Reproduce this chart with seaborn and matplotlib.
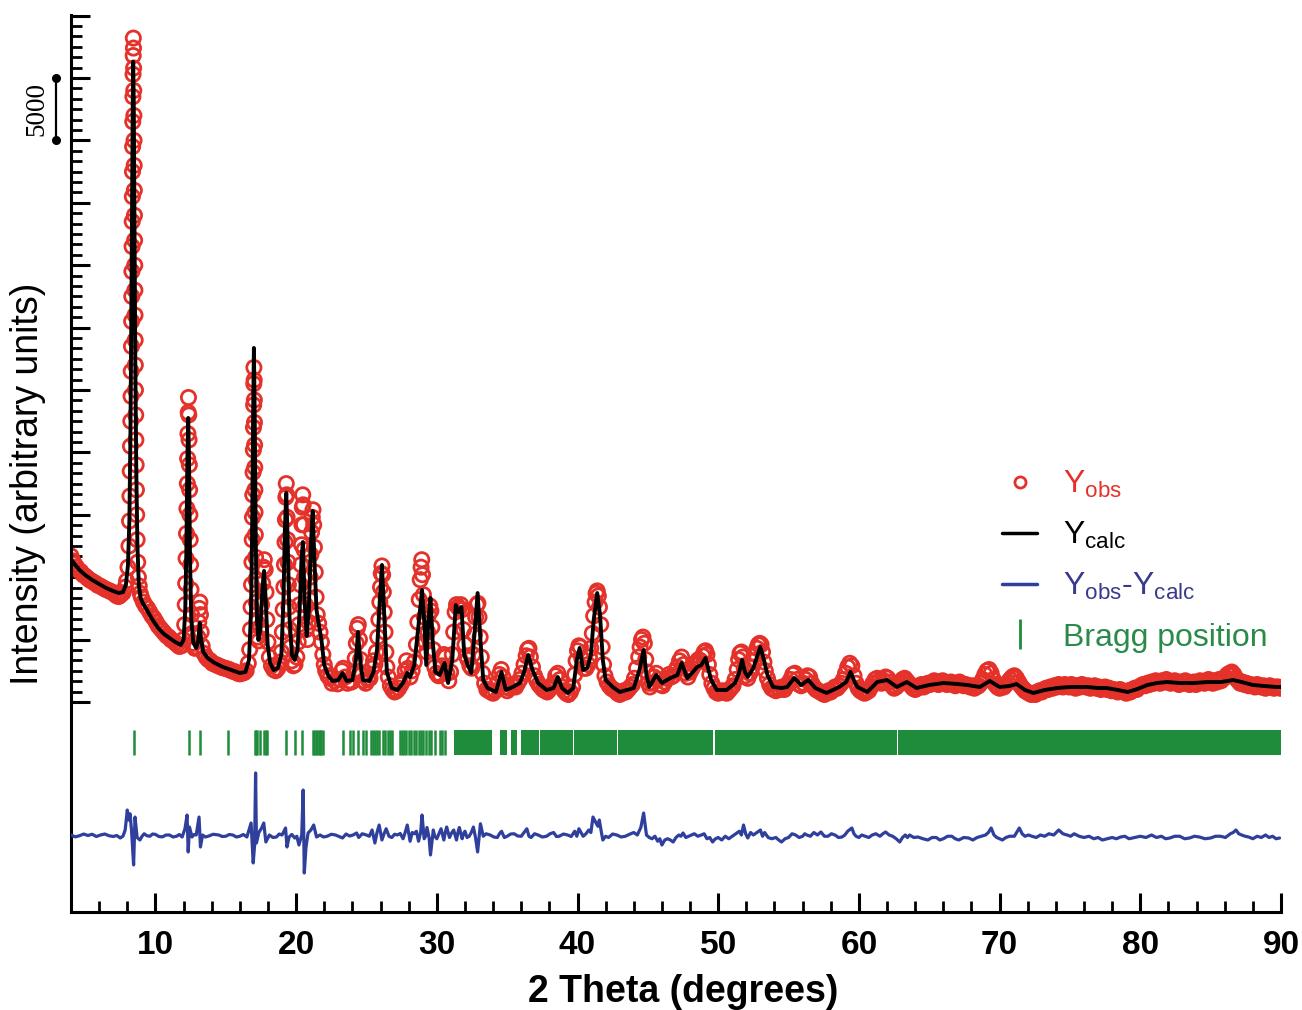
import numpy as np
import pandas as pd
import matplotlib
matplotlib.use("Agg")
import matplotlib.pyplot as plt
import seaborn as sns
from matplotlib.lines import Line2D
from matplotlib import transforms
from matplotlib.ticker import FixedLocator, MultipleLocator

# ---------------- data ----------------
# calculated profile: (2theta, counts)
ycalc_points = [
    (4.0, 11460), (4.3, 10980), (4.6, 10580), (5.0, 10180), (5.5, 9780), (6.0, 9460),
    (6.5, 9130), (7.0, 8890), (7.4, 8730), (7.7, 8810), (7.9, 9380), (8.05, 10980),
    (8.15, 14580), (8.22, 21000), (8.28, 29800), (8.34, 40200), (8.39, 48200), (8.42, 51300),
    (8.46, 48200), (8.51, 38600), (8.57, 27400), (8.64, 18600), (8.72, 12580), (8.82, 9380),
    (8.95, 8330), (9.1, 7930), (9.4, 7370), (9.8, 6570), (10.2, 5930), (10.6, 5450),
    (11.0, 5130), (11.4, 4810), (11.8, 4570), (12.0, 4970), (12.12, 7370), (12.2, 12180),
    (12.27, 19390), (12.33, 22760), (12.39, 19390), (12.46, 11380), (12.55, 6570), (12.7, 4730),
    (12.9, 4330), (13.05, 4970), (13.15, 6330), (13.25, 4970), (13.4, 4010), (13.7, 3530),
    (14.2, 3130), (14.8, 2800), (15.4, 2560), (16.0, 2320), (16.4, 2400), (16.65, 3370),
    (16.8, 7370), (16.88, 14580), (16.94, 22600), (17.0, 28370), (17.06, 22600), (17.13, 12980),
    (17.22, 6570), (17.32, 4970), (17.45, 5770), (17.6, 8970), (17.72, 10500), (17.84, 8170),
    (17.98, 4570), (18.15, 3130), (18.4, 2560), (18.7, 2720), (18.95, 3770), (19.1, 8170),
    (19.2, 13780), (19.3, 16750), (19.4, 12980), (19.52, 6970), (19.7, 3770), (19.9, 3370),
    (20.1, 4170), (20.25, 7370), (20.38, 11380), (20.48, 12820), (20.6, 8170), (20.75, 5290),
    (20.9, 7370), (21.05, 12580), (21.18, 15300), (21.3, 11380), (21.45, 7370), (21.62, 6170),
    (21.8, 4970), (22.0, 2965), (22.3, 2080), (22.6, 1680), (23.0, 1760), (23.3, 2320),
    (23.6, 1680), (24.0, 1760), (24.25, 3370), (24.4, 5610), (24.55, 3370), (24.75, 1760),
    (25.2, 1680), (25.5, 2400), (25.75, 4170), (25.95, 8170), (26.1, 10980), (26.25, 7370),
    (26.45, 2400), (26.8, 1120), (27.2, 960), (27.6, 1520), (27.9, 2320), (28.1, 2000),
    (28.4, 2965), (28.7, 6170), (28.95, 8970), (29.1, 6570), (29.25, 2965), (29.4, 6570),
    (29.55, 8330), (29.7, 4970), (29.9, 2400), (30.2, 2160), (30.55, 3125), (30.8, 1520),
    (31.1, 3370), (31.35, 7770), (31.55, 7210), (31.75, 7610), (31.95, 3765), (32.2, 2965),
    (32.45, 2320), (32.7, 5770), (32.9, 8730), (33.1, 4970), (33.3, 1760), (33.6, 1120),
    (34.2, 800), (34.6, 2400), (34.9, 960), (35.4, 1200), (35.9, 1520), (36.2, 2400),
    (36.5, 3765), (36.8, 2560), (37.2, 1520), (37.8, 960), (38.3, 1120), (38.6, 2000),
    (38.9, 1120), (39.3, 720), (39.7, 1120), (39.95, 3365), (40.15, 4330), (40.4, 2560),
    (40.7, 2720), (40.95, 3765), (41.15, 6570), (41.4, 8730), (41.6, 6970), (41.8, 3365),
    (42.0, 1760), (42.5, 1200), (43.0, 800), (43.5, 960), (44.0, 1120), (44.4, 2560),
    (44.7, 4170), (44.9, 2160), (45.1, 1200), (45.6, 2160), (46.0, 1520), (46.6, 1920),
    (47.1, 2160), (47.4, 3125), (47.8, 1920), (48.2, 2400), (48.5, 2800), (48.8, 2960),
    (49.1, 3525), (49.5, 1760), (49.9, 960), (50.6, 960), (51.2, 1520), (51.5, 2400),
    (51.7, 3365), (51.9, 2400), (52.1, 2000), (52.5, 2720), (52.8, 3765), (53.0, 4410),
    (53.25, 3365), (53.5, 2160), (53.9, 1200), (54.5, 1120), (54.9, 1200), (55.4, 1920),
    (55.9, 1360), (56.4, 1760), (56.9, 1120), (57.7, 720), (58.6, 1200), (59.1, 1600),
    (59.4, 2400), (59.7, 1600), (59.9, 1200), (60.6, 800), (61.3, 1600), (62.0, 1760),
    (62.7, 1200), (63.4, 1600), (64.1, 1120), (65.0, 1360), (66.0, 1520), (67.0, 1440),
    (67.7, 1360), (68.6, 1200), (69.3, 1680), (70.0, 1200), (70.7, 1280), (71.2, 1440),
    (71.8, 960), (72.4, 720), (73.2, 960), (74.1, 1120), (75.0, 1200), (76.2, 1200),
    (77.0, 1120), (77.6, 1120), (78.4, 960), (79.1, 800), (79.8, 1040), (80.5, 1360),
    (81.2, 1520), (81.9, 1600), (82.8, 1520), (83.8, 1520), (84.8, 1600), (85.7, 1600),
    (86.2, 1680), (86.6, 1760), (87.2, 1600), (88.0, 1360), (88.8, 1280), (89.7, 1200),
    (90.0, 1200),
]

# observed points, 4-22 deg: (2theta, counts)
yobs_low = [
    (4.0, 11700), (4.12, 11300), (4.25, 11050), (4.4, 10800), (4.55, 10550), (4.7, 10450),
    (4.85, 10200), (5.0, 10100), (5.15, 9950), (5.3, 9800), (5.45, 9700), (5.6, 9600),
    (5.75, 9500), (5.9, 9350), (6.05, 9300), (6.2, 9200), (6.35, 9100), (6.5, 9000),
    (6.65, 8950), (6.8, 8850), (6.95, 8800), (7.1, 8650), (7.25, 8500), (7.4, 8450),
    (7.55, 8600), (7.7, 8750), (7.85, 9200), (7.95, 9700), (8.05, 10800), (8.12, 12500),
    (8.16, 14500), (8.19, 16500), (8.21, 18500), (8.23, 20500), (8.25, 22500), (8.27, 24500),
    (8.28, 26500), (8.3, 28500), (8.31, 30500), (8.32, 32500), (8.33, 34500), (8.34, 36500),
    (8.35, 38500), (8.36, 40500), (8.37, 42500), (8.38, 44500), (8.39, 46500), (8.4, 48500),
    (8.41, 50300), (8.42, 51800), (8.43, 53200), (8.44, 52400), (8.45, 50800), (8.46, 49000),
    (8.47, 47000), (8.48, 45000), (8.49, 43000), (8.5, 41000), (8.51, 39000), (8.52, 37000),
    (8.53, 35000), (8.54, 33000), (8.55, 31000), (8.56, 29000), (8.57, 27000), (8.58, 25000),
    (8.6, 23000), (8.61, 21000), (8.63, 19000), (8.65, 17000), (8.67, 15000), (8.7, 13000),
    (8.74, 11200), (8.79, 10000), (8.85, 9300), (8.92, 8700), (9.0, 8400), (9.15, 8000),
    (9.3, 7700), (9.45, 7500), (9.6, 7200), (9.75, 6900), (9.9, 6700), (10.05, 6400),
    (10.2, 6100), (10.35, 5900), (10.5, 5700), (10.65, 5500), (10.8, 5300), (10.95, 5200),
    (11.1, 5000), (11.25, 4900), (11.4, 4750), (11.55, 4600), (11.7, 4450), (11.85, 4500),
    (11.98, 5000), (12.08, 6200), (12.12, 7800), (12.15, 9500), (12.18, 11500), (12.21, 13500),
    (12.24, 15500), (12.27, 17500), (12.29, 19500), (12.31, 21500), (12.33, 23200), (12.35, 24400),
    (12.37, 23000), (12.39, 21000), (12.41, 19000), (12.43, 17000), (12.45, 15000), (12.47, 13000),
    (12.5, 11000), (12.53, 9000), (12.57, 7000), (12.62, 5500), (12.7, 4700), (12.8, 4300),
    (12.92, 4400), (13.02, 5200), (13.08, 6400), (13.12, 7500), (13.16, 8000), (13.2, 7000),
    (13.25, 5600), (13.32, 4500), (13.45, 3900), (13.6, 3600), (13.75, 3400), (13.9, 3300),
    (14.05, 3100), (14.2, 3050), (14.35, 2950), (14.5, 2900), (14.65, 2800), (14.8, 2750),
    (14.95, 2700), (15.1, 2650), (15.25, 2600), (15.4, 2500), (15.55, 2450), (15.7, 2400),
    (15.85, 2300), (16.0, 2250), (16.15, 2300), (16.3, 2350), (16.45, 2500), (16.6, 3100),
    (16.7, 4200), (16.76, 5800), (16.8, 7600), (16.83, 9400), (16.86, 11200), (16.88, 13000),
    (16.9, 14800), (16.92, 16600), (16.94, 18400), (16.96, 20200), (16.97, 22000), (16.98, 23800),
    (16.99, 25500), (17.0, 26800), (17.02, 25800), (17.03, 24200), (17.04, 22400), (17.05, 20600),
    (17.06, 18800), (17.07, 17000), (17.08, 15200), (17.1, 13400), (17.12, 11600), (17.14, 9800),
    (17.17, 8000), (17.21, 6400), (17.27, 5200), (17.35, 4900), (17.45, 6000), (17.55, 7800),
    (17.62, 9500), (17.68, 10800), (17.74, 11400), (17.8, 10600), (17.86, 8800), (17.92, 6600),
    (18.0, 4800), (18.1, 3600), (18.25, 2900), (18.4, 2600), (18.55, 2500), (18.7, 2700),
    (18.85, 3200), (18.95, 4000), (19.02, 5600), (19.08, 7400), (19.13, 9200), (19.17, 11000),
    (19.21, 12800), (19.24, 14600), (19.27, 16400), (19.3, 17500), (19.33, 16600), (19.36, 14800),
    (19.39, 13000), (19.42, 11200), (19.45, 9400), (19.49, 7600), (19.54, 5800), (19.6, 4400),
    (19.7, 3300), (19.8, 2900), (19.92, 3000), (20.05, 3600), (20.15, 4800), (20.2, 6200),
    (20.25, 7800), (20.3, 9400), (20.34, 11000), (20.38, 12600), (20.41, 14200), (20.44, 15600),
    (20.47, 16600), (20.5, 15800), (20.53, 14200), (20.56, 12200), (20.6, 10000), (20.65, 7800),
    (20.72, 5800), (20.8, 5000), (20.88, 6400), (20.95, 8200), (21.0, 10000), (21.05, 11800),
    (21.1, 13600), (21.15, 14800), (21.2, 15400), (21.25, 14200), (21.3, 12400), (21.36, 10400),
    (21.42, 8400), (21.5, 7000), (21.6, 6300), (21.7, 5600), (21.8, 4800), (21.9, 3800),
    (22.0, 3000), (22.1, 2500), (22.25, 2100), (22.4, 1900),
]

# observed points, 22-45 deg
yobs_mid = [
    (22.55, 1500), (22.75, 1700), (22.95, 1450), (23.1, 1800), (23.25, 2500), (23.35, 2700),
    (23.5, 2000), (23.65, 1500), (23.8, 1700), (23.95, 1600), (24.1, 2300), (24.2, 3500),
    (24.28, 4700), (24.35, 5900), (24.42, 6200), (24.5, 5000), (24.58, 3400), (24.68, 2200),
    (24.8, 1700), (24.95, 1500), (25.1, 1800), (25.25, 1900), (25.4, 2700), (25.5, 3300),
    (25.6, 3000), (25.7, 4000), (25.8, 5200), (25.88, 6600), (25.95, 8000), (26.0, 9200),
    (26.05, 10300), (26.1, 10900), (26.15, 10200), (26.2, 8800), (26.26, 7200), (26.32, 5600),
    (26.38, 4000), (26.45, 2800), (26.55, 2000), (26.7, 1300), (26.85, 1000), (27.0, 800),
    (27.15, 900), (27.3, 1100), (27.45, 1400), (27.6, 1700), (27.75, 2500), (27.85, 3300),
    (27.95, 2700), (28.1, 2000), (28.25, 2500), (28.4, 3200), (28.55, 4600), (28.65, 6400),
    (28.75, 8200), (28.82, 9800), (28.88, 10800), (28.93, 11400), (28.98, 10200), (29.05, 8600),
    (29.12, 6800), (29.2, 4800), (29.28, 4000), (29.35, 5600), (29.42, 7000), (29.5, 7700),
    (29.58, 7300), (29.65, 6000), (29.75, 4200), (29.85, 2800), (29.98, 2300), (30.12, 2100),
    (30.25, 2200), (30.4, 2900), (30.5, 3800), (30.6, 3600), (30.72, 2300), (30.85, 1700),
    (30.98, 2400), (31.1, 3800), (31.2, 5600), (31.3, 7200), (31.4, 7800), (31.5, 7600),
    (31.6, 7500), (31.7, 7800), (31.8, 7400), (31.9, 5800), (32.0, 4600), (32.1, 3700),
    (32.2, 3400), (32.35, 2900), (32.48, 2700), (32.58, 3800), (32.68, 5400), (32.76, 6800),
    (32.85, 7800), (32.92, 7900), (33.0, 6800), (33.08, 5200), (33.16, 3600), (33.25, 2300),
    (33.4, 1500), (33.55, 1000), (33.7, 900), (33.85, 800), (34.0, 700), (34.15, 900),
    (34.3, 1500), (34.45, 2200), (34.58, 2600), (34.7, 2000), (34.85, 1200), (35.0, 900),
    (35.15, 1100), (35.3, 1400), (35.45, 1300), (35.6, 1200), (35.75, 1500), (35.9, 1800),
    (36.05, 2300), (36.2, 3000), (36.35, 3700), (36.45, 4200), (36.55, 4300), (36.65, 3600),
    (36.8, 2800), (36.95, 2100), (37.1, 1700), (37.25, 1400), (37.4, 1200), (37.55, 1000),
    (37.7, 900), (37.85, 800), (38.0, 1000), (38.15, 1200), (38.3, 1500), (38.45, 2100),
    (38.6, 2300), (38.75, 1800), (38.9, 1200), (39.05, 900), (39.2, 700), (39.35, 600),
    (39.5, 800), (39.65, 1200), (39.8, 2200), (39.9, 3300), (40.0, 4100), (40.1, 4500),
    (40.2, 4400), (40.3, 3500), (40.45, 2700), (40.6, 2700), (40.75, 3000), (40.85, 3600),
    (40.95, 4300), (41.05, 5500), (41.15, 6900), (41.25, 8000), (41.32, 8700), (41.4, 8900),
    (41.48, 8500), (41.56, 7600), (41.65, 6200), (41.75, 4400), (41.85, 3000), (41.95, 2100),
    (42.1, 1600), (42.25, 1300), (42.4, 1100), (42.55, 1000), (42.7, 900), (42.85, 700),
    (43.0, 600), (43.15, 700), (43.3, 900), (43.45, 800), (43.6, 1000), (43.75, 1200),
    (43.9, 1400), (44.05, 1900), (44.2, 2700), (44.35, 3600), (44.45, 4400), (44.55, 5000),
    (44.65, 5200), (44.75, 4700), (44.85, 3400), (44.95, 2400), (45.05, 1500), (45.15, 1200),
]

# observed points, 45-90 deg
yobs_high = [
    (45.3, 1500), (45.45, 2000), (45.6, 2300), (45.75, 1800), (45.9, 1400), (46.05, 1300),
    (46.2, 1600), (46.35, 1900), (46.5, 2200), (46.65, 2000), (46.8, 2100), (46.95, 2500),
    (47.1, 2800), (47.25, 3300), (47.4, 3600), (47.55, 3000), (47.7, 2300), (47.85, 2000),
    (48.0, 2400), (48.15, 2700), (48.3, 3000), (48.45, 3200), (48.6, 3400), (48.75, 3300),
    (48.9, 3700), (49.0, 4000), (49.1, 4100), (49.2, 3800), (49.3, 3000), (49.4, 2200),
    (49.55, 1500), (49.7, 1100), (49.85, 800), (50.0, 700), (50.15, 800), (50.3, 900),
    (50.45, 800), (50.6, 700), (50.75, 900), (50.9, 1100), (51.05, 1300), (51.2, 1800),
    (51.35, 2600), (51.45, 3400), (51.55, 3900), (51.65, 4000), (51.75, 3600), (51.85, 2700),
    (51.95, 2100), (52.1, 1900), (52.25, 2300), (52.4, 2800), (52.55, 3300), (52.65, 3800),
    (52.75, 4300), (52.85, 4600), (52.95, 4700), (53.05, 4600), (53.15, 4000), (53.25, 3200),
    (53.35, 2500), (53.5, 1900), (53.65, 1400), (53.8, 1100), (53.95, 1000), (54.1, 900),
    (54.25, 1100), (54.4, 1000), (54.55, 1200), (54.7, 1000), (54.85, 1300), (55.0, 1500),
    (55.15, 1800), (55.3, 2200), (55.45, 2300), (55.6, 1800), (55.75, 1400), (55.9, 1300),
    (56.05, 1500), (56.2, 1800), (56.35, 2100), (56.5, 2000), (56.65, 1500), (56.8, 1200),
    (56.95, 1000), (57.1, 900), (57.25, 800), (57.4, 700), (57.55, 600), (57.7, 700),
    (57.85, 900), (58.0, 800), (58.15, 1000), (58.3, 1200), (58.45, 1100), (58.6, 1300),
    (58.75, 1500), (58.9, 1800), (59.05, 2300), (59.2, 2800), (59.35, 3100), (59.5, 2900),
    (59.65, 2100), (59.8, 1500), (59.95, 1100), (60.1, 900), (60.25, 800), (60.4, 700),
    (60.55, 800), (60.7, 900), (60.85, 1200), (61.0, 1500), (61.15, 1800), (61.3, 1900),
    (61.45, 1700), (61.6, 1500), (61.75, 1700), (61.9, 2000), (62.05, 1900), (62.2, 1600),
    (62.35, 1300), (62.5, 1100), (62.65, 1200), (62.8, 1400), (62.95, 1600), (63.1, 1800),
    (63.25, 1900), (63.4, 1700), (63.55, 1500), (63.7, 1300), (63.85, 1100), (64.0, 1000),
    (64.15, 1100), (64.3, 1300), (64.45, 1400), (64.6, 1200), (64.75, 1300), (64.9, 1500),
    (65.05, 1400), (65.2, 1500), (65.35, 1700), (65.5, 1500), (65.65, 1400), (65.8, 1600),
    (65.95, 1700), (66.1, 1500), (66.25, 1400), (66.4, 1500), (66.55, 1600), (66.7, 1400),
    (66.85, 1300), (67.0, 1500), (67.15, 1600), (67.3, 1400), (67.45, 1300), (67.6, 1400),
    (67.75, 1300), (67.9, 1200), (68.05, 1300), (68.2, 1100), (68.35, 1200), (68.5, 1300),
    (68.65, 1500), (68.8, 1800), (68.95, 2200), (69.1, 2500), (69.25, 2600), (69.4, 2300),
    (69.55, 1800), (69.7, 1400), (69.85, 1200), (70.0, 1100), (70.15, 1300), (70.3, 1200),
    (70.45, 1400), (70.6, 1600), (70.75, 1800), (70.9, 2000), (71.05, 2100), (71.2, 1900),
    (71.35, 1600), (71.5, 1300), (71.65, 1100), (71.8, 900), (71.95, 800), (72.1, 700),
    (72.25, 600), (72.4, 700), (72.55, 600), (72.7, 800), (72.85, 900), (73.0, 800),
    (73.15, 1000), (73.3, 1100), (73.45, 1000), (73.6, 1200), (73.75, 1100), (73.9, 1300),
    (74.05, 1200), (74.2, 1400), (74.35, 1300), (74.5, 1200), (74.65, 1400), (74.8, 1300),
    (74.95, 1200), (75.1, 1400), (75.25, 1300), (75.4, 1100), (75.55, 1300), (75.7, 1200),
    (75.85, 1400), (76.0, 1300), (76.15, 1200), (76.3, 1300), (76.45, 1100), (76.6, 1200),
    (76.75, 1300), (76.9, 1100), (77.05, 1200), (77.2, 1000), (77.35, 1100), (77.5, 1200),
    (77.65, 1000), (77.8, 1100), (77.95, 900), (78.1, 1000), (78.25, 900), (78.4, 800),
    (78.55, 1000), (78.7, 900), (78.85, 800), (79.0, 700), (79.15, 900), (79.3, 800),
    (79.45, 1000), (79.6, 1100), (79.75, 1000), (79.9, 1200), (80.05, 1300), (80.2, 1400),
    (80.35, 1300), (80.5, 1500), (80.65, 1400), (80.8, 1600), (80.95, 1500), (81.1, 1700),
    (81.25, 1600), (81.4, 1500), (81.55, 1700), (81.7, 1600), (81.85, 1800), (82.0, 1700),
    (82.15, 1500), (82.3, 1600), (82.45, 1700), (82.6, 1500), (82.75, 1400), (82.9, 1600),
    (83.05, 1500), (83.2, 1700), (83.35, 1600), (83.5, 1400), (83.65, 1500), (83.8, 1600),
    (83.95, 1400), (84.1, 1500), (84.25, 1700), (84.4, 1600), (84.55, 1500), (84.7, 1700),
    (84.85, 1800), (85.0, 1600), (85.15, 1500), (85.3, 1700), (85.45, 1600), (85.6, 1800),
    (85.75, 1700), (85.9, 1900), (86.05, 2000), (86.2, 2200), (86.35, 2300), (86.5, 2400),
    (86.65, 2200), (86.8, 1900), (86.95, 1700), (87.1, 1500), (87.25, 1600), (87.4, 1400),
    (87.55, 1500), (87.7, 1300), (87.85, 1400), (88.0, 1300), (88.15, 1200), (88.3, 1400),
    (88.45, 1300), (88.6, 1200), (88.75, 1300), (88.9, 1100), (89.05, 1200), (89.2, 1300),
    (89.35, 1200), (89.5, 1100), (89.65, 1200), (89.8, 1200), (89.95, 1100),
]

# difference curve Yobs - Ycalc: (2theta, counts)
ydiff_points = [
    (4.0, 0), (4.3, -150), (4.6, -60), (4.9, 80), (5.2, -40), (5.5, 60), (5.8, -120),
    (6.1, 0), (6.4, 80), (6.7, -60), (7.0, -120), (7.25, -40), (7.5, -240), (7.7, -80),
    (7.85, 400), (8.0, 2000), (8.1, 1200), (8.2, 1700), (8.3, 400), (8.45, -2400),
    (8.55, 1440), (8.7, -200), (8.9, -400), (9.05, -100), (9.2, 100), (9.4, -60), (9.6, -100),
    (9.8, 80), (10.0, 50), (10.25, -120), (10.5, -150), (10.75, 0), (11.0, 0), (11.25, -160),
    (11.5, -100), (11.7, 40), (11.9, -160), (12.1, 500), (12.25, 1600), (12.33, -1360),
    (12.42, 640), (12.6, -160), (12.75, 40), (12.9, 0), (13.1, 1440), (13.2, -960),
    (13.35, 0), (13.55, -160), (13.8, -80), (14.1, 60), (14.5, 0), (14.75, -120), (15.0, -100),
    (15.25, 40), (15.5, 0), (15.75, -160), (16.0, -100), (16.25, 40), (16.5, -160),
    (16.8, 960), (16.95, -2240), (17.05, -800), (17.12, 4970), (17.18, -640), (17.35, 200),
    (17.55, 560), (17.7, 960), (17.85, -560), (18.1, 0), (18.35, -200), (18.6, -160),
    (18.8, 80), (19.0, 0), (19.25, 560), (19.35, -960), (19.5, -160), (19.7, 40), (19.9, -240),
    (20.05, -100), (20.2, -800), (20.4, 0), (20.5, 3600), (20.58, -3045), (20.7, -1000),
    (20.85, 160), (21.05, 400), (21.25, 800), (21.45, -160), (21.7, 0), (21.95, -160),
    (22.2, -100), (22.5, 60), (22.8, 0), (23.05, -120), (23.3, -240), (23.55, 80), (23.8, -80),
    (24.05, 0), (24.3, 160), (24.45, -200), (24.7, 100), (25.0, 0), (25.2, -100), (25.4, 400),
    (25.6, -640), (25.75, 200), (25.9, 800), (26.1, -400), (26.25, 100), (26.4, 500),
    (26.6, -100), (26.8, -200), (27.0, 60), (27.2, 0), (27.4, 120), (27.6, -300), (27.75, 200),
    (27.9, 800), (28.1, -500), (28.25, 200), (28.4, 100), (28.55, 300), (28.7, -500),
    (28.85, 200), (28.95, 1600), (29.1, -300), (29.2, -100), (29.3, 600), (29.45, -200),
    (29.55, -1600), (29.75, 400), (29.85, -100), (30.0, -300), (30.15, 100), (30.3, 500),
    (30.5, -400), (30.6, 200), (30.7, 640), (30.9, -200), (31.05, 160), (31.2, 400),
    (31.4, -400), (31.5, 200), (31.6, 600), (31.8, -300), (31.9, 100), (32.0, 300),
    (32.15, -200), (32.3, -100), (32.45, 200), (32.6, 640), (32.75, -200), (32.9, -1360),
    (33.1, 900), (33.3, -100), (33.5, 100), (33.8, 0), (34.05, -160), (34.3, -200),
    (34.45, 100), (34.6, 300), (34.8, -200), (35.0, -100), (35.25, 80), (35.5, 100),
    (35.75, -80), (36.0, -100), (36.2, 200), (36.4, 500), (36.55, -100), (36.7, -200),
    (36.95, 100), (37.2, 0), (37.5, -160), (37.8, -100), (38.05, 100), (38.3, 200),
    (38.5, -120), (38.7, -100), (39.0, 80), (39.3, 0), (39.55, -120), (39.8, 300),
    (39.95, -100), (40.1, 500), (40.25, 200), (40.4, -100), (40.6, 100), (40.8, 400),
    (40.95, 200), (41.1, 1440), (41.3, 1000), (41.45, 700), (41.55, 1200), (41.7, 200),
    (41.8, -400), (42.0, -100), (42.2, -200), (42.5, 80), (42.8, 0), (43.1, -160),
    (43.4, -100), (43.7, 60), (44.0, 200), (44.25, 0), (44.5, 600), (44.7, 1760), (44.9, 0),
    (45.1, -200), (45.3, -300), (45.5, -100), (45.7, -500), (45.85, -300), (46.0, -800),
    (46.2, -400), (46.4, -300), (46.6, -400), (46.8, -560), (47.0, -200), (47.2, 0),
    (47.35, -100), (47.5, 160), (47.7, -200), (47.9, -100), (48.1, 0), (48.3, 100),
    (48.55, -100), (48.8, 0), (49.0, 100), (49.2, -300), (49.4, -200), (49.6, -560),
    (49.8, -300), (50.0, -200), (50.25, -400), (50.5, -100), (50.75, -300), (51.0, -100),
    (51.25, 100), (51.5, 300), (51.65, 0), (51.8, 800), (51.95, 100), (52.1, -240),
    (52.3, 200), (52.5, 0), (52.75, 200), (53.0, 400), (53.15, -100), (53.3, 200),
    (53.55, -200), (53.8, -300), (54.1, -200), (54.3, -400), (54.5, -560), (54.75, -300),
    (55.0, -200), (55.25, 100), (55.5, 0), (55.75, -200), (56.0, -100), (56.15, 100),
    (56.3, 0), (56.55, -100), (56.8, 200), (57.05, 0), (57.3, 240), (57.55, -100),
    (57.8, -100), (58.05, 100), (58.3, 0), (58.55, -200), (58.8, -160), (59.0, 0),
    (59.2, 300), (59.5, 560), (59.65, 100), (59.8, -100), (60.0, -200), (60.2, 0),
    (60.45, -100), (60.7, -200), (60.95, 0), (61.2, 100), (61.5, -100), (61.7, 100),
    (61.9, 240), (62.15, 0), (62.4, -100), (62.65, -300), (62.9, -560), (63.1, -200),
    (63.3, 0), (63.45, -200), (63.6, 0), (63.9, -200), (64.2, -160), (64.55, -300),
    (64.9, -400), (65.2, -200), (65.5, -200), (65.75, -400), (66.0, -300), (66.3, -100),
    (66.6, -100), (66.85, -300), (67.1, -400), (67.45, -200), (67.8, -240), (68.1, -400),
    (68.4, -200), (68.7, -100), (69.0, 0), (69.2, 200), (69.4, 560), (69.6, 0), (69.8, -200),
    (70.0, -300), (70.2, -400), (70.45, -200), (70.7, -100), (71.05, -100), (71.4, 560),
    (71.6, 100), (71.8, -100), (72.05, 0), (72.3, -100), (72.6, -200), (72.9, 0),
    (73.2, -100), (73.5, 100), (73.85, 0), (74.2, 400), (74.5, 100), (74.8, 0), (75.05, -100),
    (75.3, 100), (75.65, -100), (76.0, -200), (76.35, -100), (76.7, -300), (77.0, -200),
    (77.3, -400), (77.65, -300), (78.0, -200), (78.3, -300), (78.6, -160), (78.9, -100),
    (79.2, -300), (79.6, -200), (80.0, -100), (80.4, -200), (80.8, 0), (81.15, -200),
    (81.5, -100), (81.8, -300), (82.1, -240), (82.45, -100), (82.8, -100), (83.15, -300),
    (83.5, -240), (83.85, -100), (84.2, -160), (84.6, -300), (85.0, -240), (85.35, -100),
    (85.7, -100), (86.05, -200), (86.4, 100), (86.6, 200), (86.8, 400), (87.0, 100),
    (87.2, 0), (87.45, -100), (87.7, -160), (88.0, -300), (88.3, -100), (88.6, -200),
    (88.9, 0), (89.15, -200), (89.4, -100), (89.65, -300), (89.9, -240),
]

# Bragg reflections: isolated ticks and dense (merged) ranges
bragg_ticks = [8.45, 12.4, 13.2, 15.15, 17.05, 17.15, 17.25, 17.4, 17.75, 17.85, 17.95,
               19.3, 19.95, 20.45, 21.2, 21.3, 21.4, 21.5, 21.6, 21.7, 21.8, 21.9,
               23.35, 23.85, 24.05, 24.4, 24.75, 25.0, 25.3, 25.45, 25.6, 25.75, 25.9,
               26.2, 26.35, 26.5, 26.65, 26.8, 27.35, 27.5, 27.65, 27.8, 28.0, 28.15,
               28.4, 28.55, 28.7, 28.9, 29.05, 29.2, 29.45, 29.6, 29.9, 30.2, 30.35, 30.6]
bragg_ranges = [(31.2, 33.9), (34.5, 35.0), (35.3, 35.7), (36.0, 37.25), (37.35, 39.65),
                (39.75, 42.8), (42.9, 49.65), (49.75, 62.7), (62.8, 90.0)]

legend_labels = ["Y$_{obs}$", "Y$_{calc}$", "Y$_{obs}$-Y$_{calc}$", "Bragg position"]

# ---------------- style constants ----------------
RED = "#e4322b"
BLUE = "#2f3f9c"
GREEN = "#1e8c3a"
DIFF_OFFSET = -10660
BRAGG_LO, BRAGG_HI = -4250, -2240

sns.set_theme(style="ticks")
plt.rcParams["font.family"] = ["Liberation Sans", "DejaVu Sans"]
plt.rcParams["mathtext.fontset"] = "custom"
plt.rcParams["mathtext.rm"] = "Liberation Sans"
plt.rcParams["mathtext.default"] = "regular"

calc = pd.DataFrame(ycalc_points, columns=["two_theta", "counts"])
obs = pd.DataFrame(yobs_low + yobs_mid + yobs_high, columns=["two_theta", "counts"])
diff = pd.DataFrame(ydiff_points, columns=["two_theta", "counts"])
diff["shifted"] = diff["counts"] + DIFF_OFFSET

fig = plt.figure(figsize=(13.02, 10.10), dpi=100)
fig.patch.set_facecolor("white")
ax = fig.add_axes([71 / 1302, 1 - 912 / 1010, 1210 / 1302, 897 / 1010])
ax.set_facecolor("white")

# observed (open circles)
sns.scatterplot(data=obs, x="two_theta", y="counts", marker="o", s=105,
                linewidth=2.0, ax=ax, zorder=2, legend=False)
pts = ax.collections[-1]
pts.set_facecolor("none")
pts.set_edgecolor(RED)

# calculated
sns.lineplot(data=calc, x="two_theta", y="counts", sort=False, estimator=None,
             color="black", linewidth=2.8, ax=ax, zorder=3, legend=False)
# difference
sns.lineplot(data=diff, x="two_theta", y="shifted", sort=False, estimator=None,
             color=BLUE, linewidth=2.3, ax=ax, zorder=3, legend=False)
# Bragg positions
ax.vlines(bragg_ticks, BRAGG_LO, BRAGG_HI, color=GREEN, linewidth=1.8, zorder=2)
ax.broken_barh([(a, b - a) for a, b in bragg_ranges], (BRAGG_LO, BRAGG_HI - BRAGG_LO),
               facecolors=GREEN, edgecolor="none", zorder=2)

# axes
ax.set_xlim(4, 90)
ax.set_ylim(-16830, 55050)
ax.set_xticks(np.arange(10, 91, 10))
ax.xaxis.set_minor_locator(MultipleLocator(2))
ax.set_yticks(np.arange(0, 55001, 5000))
ax.yaxis.set_minor_locator(FixedLocator(np.arange(0, 55001, 5000 / 6)))
ax.set_yticklabels([])
for s in ["top", "right"]:
    ax.spines[s].set_visible(False)
for s in ["left", "bottom"]:
    ax.spines[s].set_linewidth(2.2)
    ax.spines[s].set_color("black")
ax.tick_params(axis="both", which="major", direction="in", length=14, width=2.2, color="black")
ax.tick_params(axis="both", which="minor", direction="in", length=8, width=2.0, color="black")
ax.tick_params(axis="x", which="major", labelsize=24, pad=13, labelcolor="black")
ax.tick_params(axis="y", which="both", labelleft=False)
for lab in ax.get_xticklabels():
    lab.set_fontweight("bold")

ax.set_xlabel("2 Theta (degrees)", fontsize=27, fontweight="bold", color="black", va="center")
ax.xaxis.set_label_coords(0.5058, -0.089)
ax.set_ylabel("Intensity (arbitrary units)", fontsize=27, color="black", va="center")
ax.yaxis.set_label_coords(-0.0355, 0.477)

# 5000-count scale bar
trans = transforms.blended_transform_factory(ax.transAxes, ax.transData)
ax.plot([-0.0124, -0.0124], [45000, 50000], transform=trans, color="black", lw=1.6,
        marker="o", ms=5.5, clip_on=False)
ax.text(-0.0285, 47500, "5000", transform=trans, rotation=90, ha="center", va="center",
        fontsize=19.5, family=["Liberation Serif", "DejaVu Serif"], color="black")

# legend
handles = [
    Line2D([], [], ls="none", marker="o", ms=8, mfc="none", mec=RED, mew=2),
    Line2D([], [], color="black", lw=2.5),
    Line2D([], [], color=BLUE, lw=2.5),
    Line2D([], [], ls="none", marker="|", ms=22, mec=GREEN, mew=2),
]
leg = ax.legend(handles, legend_labels, loc="upper left", bbox_to_anchor=(0.7694, 0.494),
                frameon=False, fontsize=23, handlelength=1.1, handletextpad=0.8,
                labelspacing=0.63, borderpad=0, borderaxespad=0)
for t, c in zip(leg.get_texts(), [RED, "black", "#3a3a8c", "#2a8a4a"]):
    t.set_color(c)

fig.savefig("out.png", dpi=100, facecolor="white")
